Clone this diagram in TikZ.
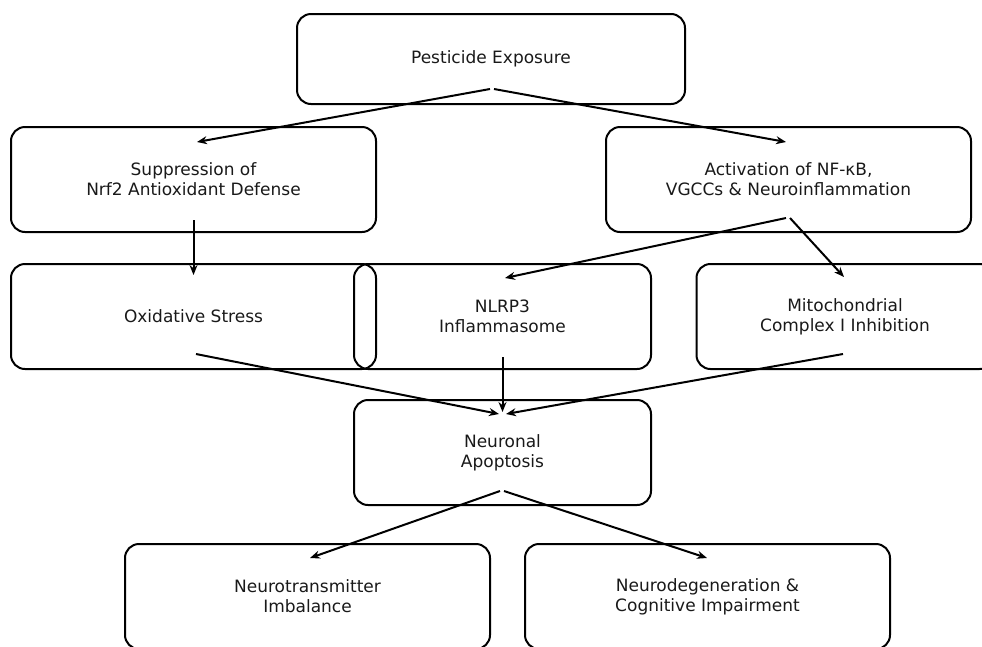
\documentclass[tikz,border=0pt]{standalone}
\usepackage{fontspec}
\setmainfont{DejaVu Sans}
\usetikzlibrary{arrows.meta}
\begin{document}
\begin{tikzpicture}[x=1pt,y=-1pt,
  box/.style={draw=black, line width=2pt, rounded corners=14pt, align=center,
    font=\fontsize{17}{20}\selectfont, text=black!90, inner sep=0pt},
  wide/.style={box, minimum width=365pt, minimum height=105pt},
  narrow/.style={box, minimum width=297pt, minimum height=105pt},
  arr/.style={line width=2pt, -{Stealth[length=10pt,width=8pt]}}]
\useasboundingbox (0,0) rectangle (982,646);
\begin{scope}
\clip (0,0) rectangle (982,646);
\node[box, minimum width=388pt, minimum height=90pt] (pe) at (491,59) {Pesticide Exposure};
\node[wide] (sup) at (193.5,179.5) {Suppression of\\Nrf2 Antioxidant Defense};
\node[wide] (act) at (788.5,179.5) {Activation of NF-κB,\\VGCCs \& Neuroinflammation};
\node[wide] (ox) at (193.5,316.5) {Oxidative Stress};
\node[narrow] (nl) at (502.5,316.5) {NLRP3\\Inflammasome};
\node[narrow] (mi) at (845,316.5) {Mitochondrial\\Complex I Inhibition};
\node[narrow] (na) at (502.5,452.5) {Neuronal\\Apoptosis};
\node[wide] (nt) at (307.5,596.5) {Neurotransmitter\\Imbalance};
\node[wide] (nd) at (707.5,596.5) {Neurodegeneration \&\\Cognitive Impairment};
\end{scope}
% connector end points
\coordinate (peL) at (490,89);  \coordinate (peR) at (494,89);
\coordinate (supT) at (197,142); \coordinate (actT) at (786,142);
\coordinate (supB) at (193.5,220); \coordinate (oxT) at (193.5,275);
\coordinate (actL) at (786,218); \coordinate (actR) at (790,218);
\coordinate (nlT) at (505,278); \coordinate (miT) at (844,277);
\coordinate (oxB) at (196,354); \coordinate (nlB) at (502.5,357); \coordinate (miB) at (843,354);
\coordinate (naL) at (499,414); \coordinate (naM) at (502.5,412); \coordinate (naR) at (506,414);
\coordinate (naBL) at (500,491); \coordinate (naBR) at (504,491);
\coordinate (ntT) at (310,558); \coordinate (ndT) at (707,558);
\draw[arr] (peL) -- (supT);
\draw[arr] (peR) -- (actT);
\draw[arr] (supB) -- (oxT);
\draw[arr] (actL) -- (nlT);
\draw[arr] (actR) -- (miT);
\draw[arr] (oxB) -- (naL);
\draw[arr] (nlB) -- (naM);
\draw[arr] (miB) -- (naR);
\draw[arr] (naBL) -- (ntT);
\draw[arr] (naBR) -- (ndT);
\end{tikzpicture}
\end{document}
